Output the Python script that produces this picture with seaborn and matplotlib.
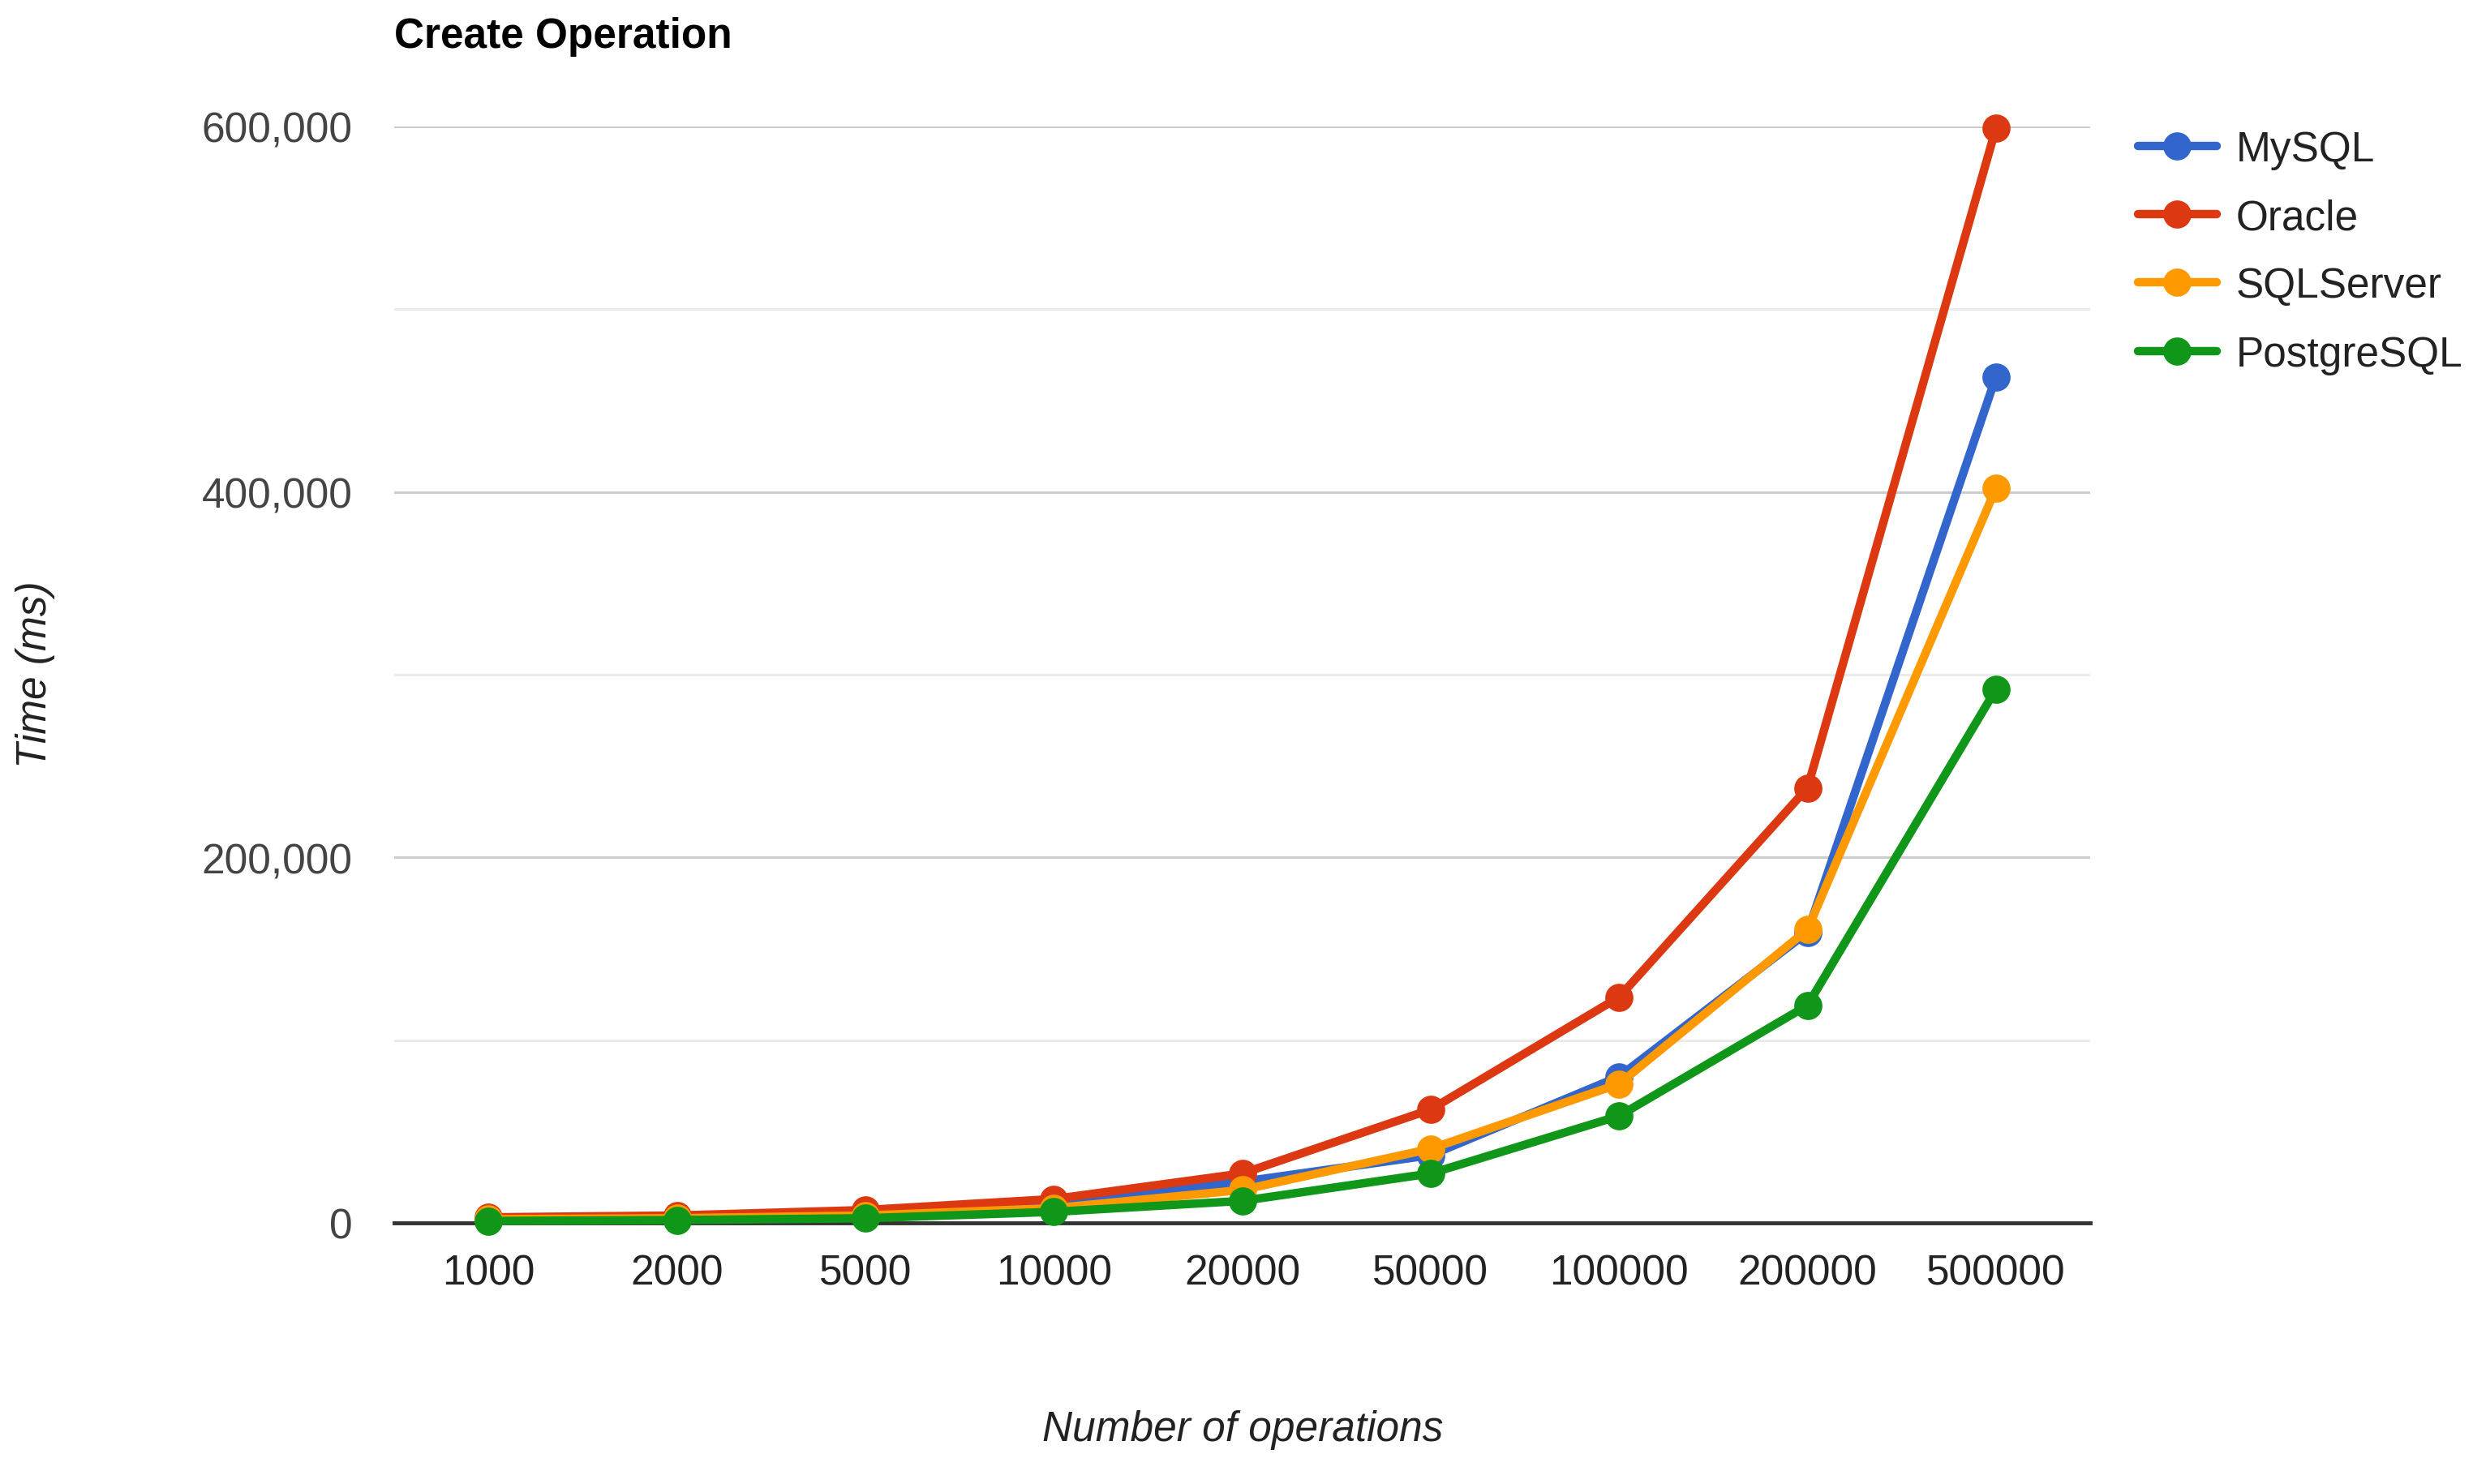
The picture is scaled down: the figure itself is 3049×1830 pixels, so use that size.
import pandas as pd
import matplotlib
matplotlib.use("Agg")
import matplotlib.pyplot as plt
import seaborn as sns
from matplotlib.ticker import FuncFormatter, MultipleLocator

operations = ["1000", "2000", "5000", "10000", "20000", "50000", "100000", "200000", "500000"]
databases = ["MySQL", "Oracle", "SQLServer", "PostgreSQL"]

mysql = [2000, 3000, 5000, 10000, 22500, 37000, 80000, 159000, 463000]
oracle = [3000, 4000, 7000, 13000, 27000, 62000, 123500, 238000, 599000]
sqlserver = [2000, 2500, 4000, 8000, 18000, 40500, 76000, 160500, 402000]
postgresql = [1000, 1500, 2500, 6000, 12000, 27000, 58500, 119000, 292000]

colors = ["#3366cc", "#dc3912", "#ff9900", "#109618"]

# long-form table for seaborn
rows = []
for name, values in zip(databases, [mysql, oracle, sqlserver, postgresql]):
    for op, v in zip(operations, values):
        rows.append({"ops": op, "time": v, "db": name})
df = pd.DataFrame(rows)

sns.set_theme(style="white")
plt.rcParams["font.family"] = ["Liberation Sans", "DejaVu Sans"]

fig = plt.figure(figsize=(30.49, 18.31), dpi=100)
ax = fig.add_axes([0.1594, 0.1759, 0.8452 - 0.1594, 0.9143 - 0.1759])

sns.lineplot(data=df, x="ops", y="time", hue="db", hue_order=databases,
             palette=colors, sort=False, marker="o", markersize=25,
             markeredgewidth=0, linewidth=7.5, ax=ax, clip_on=False,
             zorder=3)

ax.set_xlim(-0.5, 8.5)
ax.set_ylim(0, 600000)
ax.yaxis.set_major_locator(MultipleLocator(200000))
ax.yaxis.set_minor_locator(MultipleLocator(100000))
ax.yaxis.set_major_formatter(FuncFormatter(lambda v, p: f"{int(v):,}"))
ax.grid(True, axis="y", which="major", color="#cccccc", linewidth=2.2)
ax.grid(True, axis="y", which="minor", color="#ebebeb", linewidth=2.2)
ax.set_axisbelow(True)

for s in ["top", "right", "left"]:
    ax.spines[s].set_visible(False)
ax.spines["bottom"].set_color("#333333")
ax.spines["bottom"].set_linewidth(3.5)
ax.spines["bottom"].set_zorder(2)

ax.tick_params(axis="y", which="both", length=0, pad=37, labelsize=37,
               labelcolor="#444444")
ax.tick_params(axis="x", length=0, pad=27, labelsize=37, labelcolor="#222222")

ax.set_xlabel("")
ax.set_ylabel("")
fig.text(1532 / 3049, 1 - 1764 / 1831, "Number of operations", ha="center",
         va="center", fontsize=37, style="italic", color="#222222")
fig.text(43 / 3049, 1 - 832 / 1831, "Time (ms)", ha="center", va="center",
         rotation=90, fontsize=37, style="italic", color="#222222")
fig.text(486 / 3049, 1 - 45 / 1831, "Create Operation", ha="left",
         va="center", fontsize=37, fontweight="bold", color="#000000")

handles, labels = ax.get_legend_handles_labels()
ax.legend(handles, labels, loc="upper left",
          bbox_to_anchor=(2615 / 3049, 1 - 140 / 1831),
          bbox_transform=fig.transFigure, frameon=False, fontsize=37,
          handlelength=1.9, handletextpad=0.45, labelspacing=0.69,
          borderaxespad=0, labelcolor="#222222")

fig.savefig("out.png", dpi=100, facecolor="white")
